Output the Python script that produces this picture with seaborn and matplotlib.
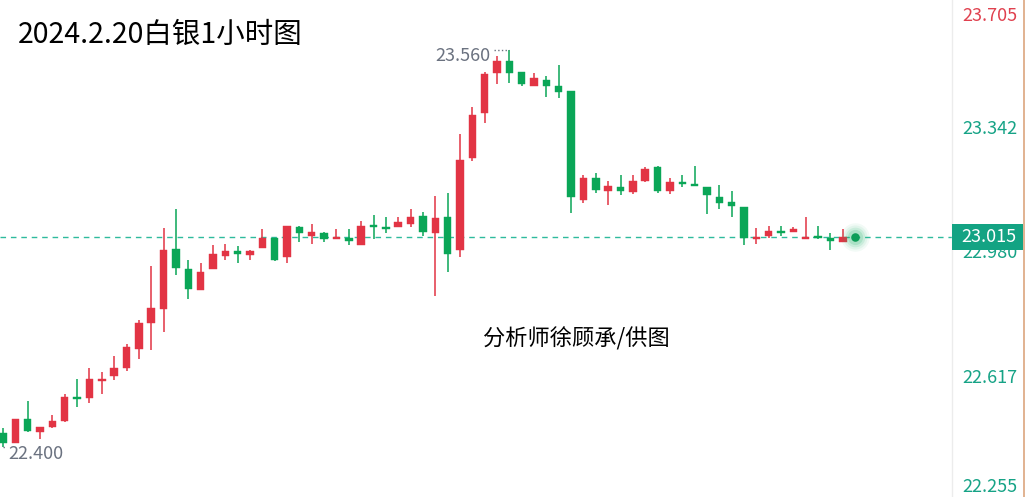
import numpy as np
import pandas as pd
import matplotlib
matplotlib.use("Agg")
import matplotlib.pyplot as plt
import matplotlib.transforms as mtransforms
from matplotlib.patches import Rectangle
from matplotlib.lines import Line2D
import seaborn as sns

# Hourly silver OHLC, 2024-02-20
opens = [22.442, 22.413, 22.483, 22.445, 22.459, 22.477, 22.547, 22.544, 22.594, 22.608,
         22.632, 22.687, 22.763, 22.804, 22.979, 22.920, 22.859, 22.920, 22.958, 22.973,
         22.961, 22.982, 23.011, 22.955, 23.043, 23.017, 23.025, 23.008, 23.011, 22.990,
         23.044, 23.040, 23.043, 23.052, 23.075, 23.025, 23.072, 22.976, 23.244, 23.375,
         23.492, 23.527, 23.495, 23.454, 23.472, 23.454, 23.440, 23.122, 23.186, 23.148,
         23.160, 23.145, 23.177, 23.218, 23.148, 23.174, 23.165, 23.160, 23.130, 23.116,
         23.101, 23.008, 23.017, 23.031, 23.028, 23.008, 23.014, 23.011, 22.999]
highs = [22.456, 22.483, 22.535, 22.459, 22.494, 22.556, 22.599, 22.632, 22.620, 22.666,
         22.702, 22.771, 22.929, 23.040, 23.095, 22.947, 22.938, 22.990, 22.993, 22.987,
         22.976, 23.037, 23.011, 23.046, 23.046, 23.052, 23.028, 23.037, 23.037, 23.060,
         23.078, 23.072, 23.072, 23.095, 23.087, 23.133, 23.142, 23.314, 23.393, 23.495,
         23.542, 23.560, 23.495, 23.492, 23.483, 23.515, 23.440, 23.194, 23.200, 23.177,
         23.194, 23.194, 23.218, 23.221, 23.186, 23.194, 23.221, 23.160, 23.165, 23.149,
         23.101, 23.040, 23.046, 23.046, 23.043, 23.072, 23.046, 23.025, 23.037]
lows = [22.400, 22.413, 22.445, 22.424, 22.456, 22.474, 22.518, 22.529, 22.556, 22.597,
        22.623, 22.658, 22.684, 22.736, 22.903, 22.833, 22.859, 22.920, 22.947, 22.938,
        22.947, 22.982, 22.944, 22.938, 22.999, 22.993, 22.999, 23.008, 22.990, 22.990,
        23.008, 23.025, 23.043, 23.043, 23.017, 22.842, 22.912, 22.955, 23.235, 23.346,
        23.460, 23.463, 23.454, 23.454, 23.422, 23.419, 23.084, 23.113, 23.142, 23.107,
        23.136, 23.139, 23.174, 23.142, 23.139, 23.160, 23.162, 23.081, 23.095, 23.072,
        22.990, 22.993, 23.011, 23.017, 23.028, 23.008, 23.008, 22.976, 22.999]
closes = [22.413, 22.483, 22.448, 22.459, 22.477, 22.547, 22.541, 22.599, 22.599, 22.632,
          22.693, 22.763, 22.807, 22.976, 22.923, 22.862, 22.912, 22.964, 22.973, 22.964,
          22.973, 23.011, 22.947, 23.046, 23.025, 23.028, 23.008, 23.011, 23.002, 23.046,
          23.043, 23.037, 23.057, 23.072, 23.028, 23.069, 22.964, 23.238, 23.370, 23.489,
          23.527, 23.492, 23.460, 23.477, 23.454, 23.437, 23.130, 23.186, 23.151, 23.162,
          23.148, 23.177, 23.212, 23.148, 23.174, 23.168, 23.162, 23.136, 23.113, 23.104,
          23.011, 23.014, 23.031, 23.025, 23.037, 23.014, 23.011, 23.002, 23.015]
last_price = 23.015
axis_ticks = [23.705, 23.342, 22.980, 22.617, 22.255]
title_text = "2024.2.20白银1小时图"
credit_text = "分析师徐顾承/供图"

sns.set_theme(style="white")
plt.rcParams["font.family"] = ["Noto Sans CJK SC", "DejaVu Sans"]

UP = "#e23444"
DOWN = "#0aa657"
TEAL = "#16a386"
LINE_TEAL = "#2fbb9d"
GREY_TXT = "#6b7280"

df = pd.DataFrame({"open": opens, "high": highs, "low": lows, "close": closes})
df["idx"] = np.arange(len(df))
df["up"] = df["close"] >= df["open"]
df["bottom"] = df[["open", "close"]].min(axis=1)
df["height"] = (df["close"] - df["open"]).abs().clip(lower=0.005)
df["color"] = np.where(df["up"], UP, DOWN)

W, H = 1025, 497
fig = plt.figure(figsize=(W / 100, H / 100), dpi=100)
fig.patch.set_facecolor("white")
plot_w = 952
ax = fig.add_axes([0, 0, plot_w / W, 1])
ax.set_facecolor("white")

# wicks and bodies
ax.vlines(df["idx"], df["low"], df["high"], colors=df["color"], linewidth=1.1, zorder=2)
ax.bar(df["idx"], df["height"], bottom=df["bottom"], width=0.6,
       color=df["color"], edgecolor=df["color"], linewidth=0.3, zorder=3)

# last price line
ax.axhline(last_price, color=LINE_TEAL, linestyle=(0, (4, 3.5)), linewidth=1.0, zorder=1)

# glowing last-price marker
last_idx = len(df)
for size, alpha in [(420, 0.06), (300, 0.08), (200, 0.12), (120, 0.18)]:
    sns.scatterplot(x=[last_idx], y=[last_price], s=size, color="#23b46a",
                    alpha=alpha, linewidth=0, ax=ax, zorder=4, legend=False)
sns.scatterplot(x=[last_idx], y=[last_price], s=38, color="#0d9d58",
                linewidth=0, ax=ax, zorder=5, legend=False)

ax.set_xlim(-3 / 12.35, (plot_w - 3) / 12.35)
ax.set_ylim(axis_ticks[-1], axis_ticks[0])
ax.set_xticks([])
ax.set_yticks([])
ax.set_xlabel("")
ax.set_ylabel("")
for side in ["top", "left", "bottom"]:
    ax.spines[side].set_visible(False)
ax.spines["right"].set_color("#ececec")
ax.spines["right"].set_linewidth(1.0)

# price scale labels on the right
ytrans = ax.get_yaxis_transform()
for i, v in enumerate(axis_ticks):
    if i == 0:
        dy, col = -16, "#e0414f"
    elif i == len(axis_ticks) - 1:
        dy, col = 10, TEAL
    else:
        dy, col = -5, TEAL
    tr = ytrans + mtransforms.ScaledTranslation(0, dy / 100, fig.dpi_scale_trans)
    ax.text(1 + 10 / plot_w, v, f"{v:.3f}", transform=tr, ha="left", va="center",
            fontsize=13, color=col, clip_on=False)

# last price tag
half = 13 / 342.8
box = Rectangle((1.0, last_price - half), 71 / plot_w, 2 * half, transform=ytrans,
                facecolor="#13a383", edgecolor="none", clip_on=False, zorder=10)
ax.add_patch(box)
ax.text(1 + 37 / plot_w, last_price, f"{last_price:.3f}", transform=ytrans,
        ha="center", va="center", fontsize=13, color="white", fontweight="medium",
        clip_on=False, zorder=11)

# high / low markers
hi_idx = int(np.argmax(highs))
lo_idx = int(np.argmin(lows))
hi_val, lo_val = highs[hi_idx], lows[lo_idx]
ax.plot([hi_idx - 1.25, hi_idx - 0.05], [hi_val, hi_val], linestyle=":",
        color=GREY_TXT, linewidth=1.0, zorder=2)
ax.annotate(f"{hi_val:.3f}", xy=(hi_idx, hi_val), xytext=(-19, -6),
            textcoords="offset pixels", ha="right", va="center",
            fontsize=13, color=GREY_TXT)
ax.plot([lo_idx, lo_idx + 0.25], [lo_val, lo_val], linestyle=":",
        color=GREY_TXT, linewidth=1.0, zorder=2)
ax.annotate(f"{lo_val:.3f}", xy=(lo_idx, lo_val), xytext=(5, -7),
            textcoords="offset pixels", ha="left", va="center",
            fontsize=13, color=GREY_TXT)

# titles
fig.text(18 / W, 1 - 35 / H, title_text, ha="left", va="center", fontsize=20.5, color="black")
fig.text(576 / W, 1 - 339 / H, credit_text, ha="center", va="center", fontsize=16,
         color="black")

# right border of the price scale
fig.add_artist(Line2D([1023.5 / W, 1023.5 / W], [0, 1], transform=fig.transFigure,
                      color="#dca67e", linewidth=1.2))

fig.savefig("out.png", dpi=100)
